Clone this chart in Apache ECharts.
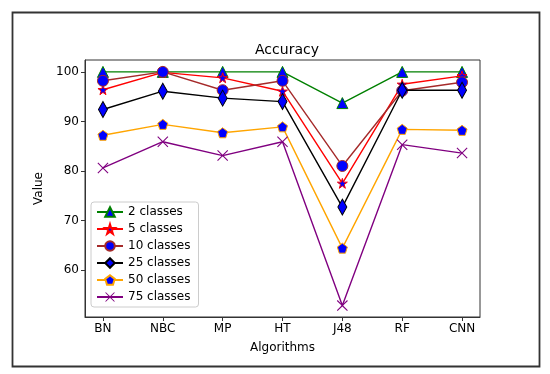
<!DOCTYPE html>
<html><head><meta charset="utf-8">
<script src="https://cdn.jsdelivr.net/npm/echarts@6/dist/echarts.min.js"></script>
<style>html,body{margin:0;padding:0;background:#fff}#c{width:550px;height:374px}</style>
</head><body><div id="c"></div>
<script>
const categories = ['BN','NBC','MP','HT','J48','RF','CNN'];
const seriesNames = ['2 classes','5 classes','10 classes','25 classes','50 classes','75 classes'];
const s2  = [100, 100, 100, 100, 93.7, 100, 100];
const s5  = [96.4, 99.9, 98.8, 96.1, 77.5, 97.5, 99.2];
const s10 = [98.2, 100, 96.3, 98.2, 81.0, 96.2, 97.9];
const s25 = [92.4, 96.1, 94.7, 94.0, 72.7, 96.3, 96.3];
const s50 = [87.2, 89.4, 87.7, 88.9, 64.4, 88.4, 88.2];
const s75 = [80.6, 85.9, 83.1, 85.9, 52.8, 85.3, 83.6];
const yTicks = [60, 70, 80, 90, 100];

const lineColors = ['#008000','#ff0000','#a52a2a','#000000','#ffa500','#800080'];
const symbols = [
  'triangle',
  'path://M50,0L61,35L98,35L68,57L79,91L50,70L21,91L32,57L2,35L39,35Z',
  'circle',
  'diamond',
  'path://M50,0L100,38L81,100L19,100L0,38Z',
  'path://M0,7L7,0L50,43L93,0L100,7L57,50L100,93L93,100L50,57L7,100L0,93L43,50Z'
];
const sizes = [11, 10, 11, [9,16], 10, 11];
const allData = [s2, s5, s10, s25, s50, s75];

const series = allData.map((arr, i) => ({
  name: seriesNames[i],
  type: 'line',
  data: arr.map((v, j) => [j, v]),
  symbol: symbols[i],
  symbolSize: sizes[i],
  symbolKeepAspect: false,
  lineStyle: {color: lineColors[i], width: 1.4},
  itemStyle: i === 5
    ? {color: lineColors[i], borderWidth: 0}
    : {color: '#0000ff', borderColor: lineColors[i], borderWidth: 1},
  emphasis: {disabled: true},
  z: 2 + i
}));

const chart = echarts.init(document.getElementById('c'), null, {renderer: 'canvas'});
chart.setOption({
  animation: false,
  backgroundColor: '#fff',
  textStyle: {fontFamily: 'DejaVu Sans'},
  title: {text: 'Accuracy', left: 282, textAlign: 'center', top: 38,
    textStyle: {fontFamily: 'DejaVu Sans', fontSize: 14, fontWeight: 'normal', color: '#000'}},
  graphic: [{type: 'rect', shape: {x: 12.5, y: 12.5, width: 527, height: 354},
    style: {fill: 'none', stroke: '#333', lineWidth: 1.8}, silent: true}],
  legend: {
    orient: 'vertical', left: 91, top: 202,
    data: seriesNames,
    itemWidth: 26, itemHeight: 12, itemGap: 5,
    padding: [4, 8, 4, 5],
    borderColor: '#cccccc', borderWidth: 1, borderRadius: 3,
    backgroundColor: 'rgba(255,255,255,0.8)',
    textStyle: {fontFamily: 'DejaVu Sans', fontSize: 12, color: '#000'}
  },
  grid: {left: 85, right: 70, top: 60, bottom: 57, show: true, borderColor: '#333', borderWidth: 1},
  xAxis: {
    type: 'value', min: -0.3, max: 6.3,
    name: 'Algorithms', nameLocation: 'middle', nameGap: 25,
    nameTextStyle: {fontFamily: 'DejaVu Sans', fontSize: 12, color: '#000'},
    axisLine: {show: true, onZero: false, lineStyle: {color: '#333'}},
    axisTick: {show: true, length: 4, lineStyle: {color: '#333'}, customValues: [0,1,2,3,4,5,6]},
    axisLabel: {customValues: [0,1,2,3,4,5,6], formatter: v => categories[Math.round(v)],
      fontFamily: 'DejaVu Sans', fontSize: 12, color: '#000', margin: 6},
    splitLine: {show: false}
  },
  yAxis: {
    type: 'value', min: 50.5, max: 102.4,
    name: 'Value', nameLocation: 'middle', nameGap: 40, nameRotate: 90,
    nameTextStyle: {fontFamily: 'DejaVu Sans', fontSize: 12, color: '#000'},
    axisLine: {show: true, onZero: false, lineStyle: {color: '#333'}},
    axisTick: {show: true, length: 4, lineStyle: {color: '#333'}, customValues: yTicks},
    axisLabel: {customValues: yTicks, fontFamily: 'DejaVu Sans', fontSize: 12, color: '#000', margin: 6},
    splitLine: {show: false}
  },
  series: series
});
</script></body></html>
